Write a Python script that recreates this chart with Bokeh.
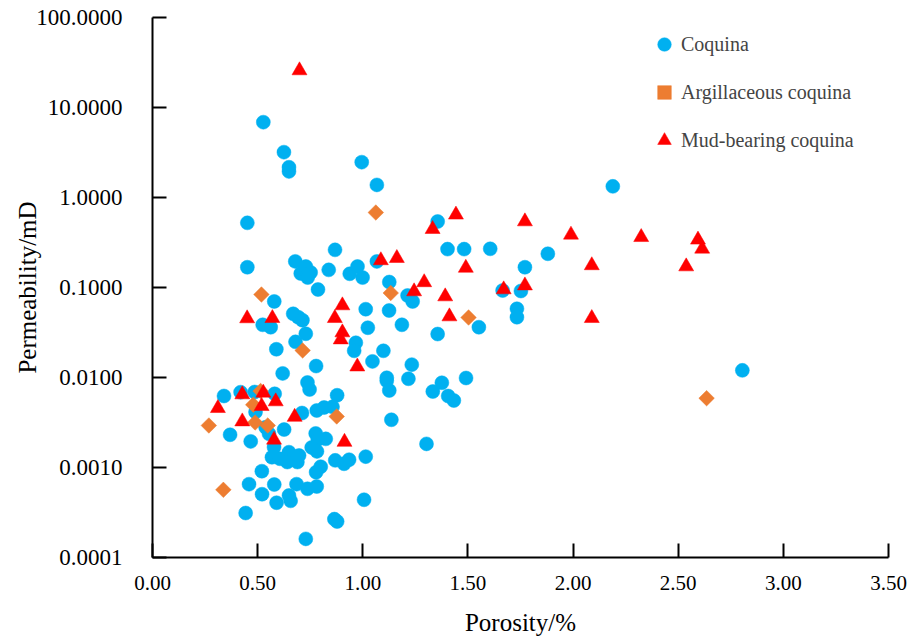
from bokeh.plotting import figure
from bokeh.models import FixedTicker, PrintfTickFormatter, Legend, LegendItem
from bokeh.embed import file_html
from bokeh.resources import INLINE

# Coquina
coq_x = [0.527, 0.625, 0.649, 0.649, 0.995, 1.067, 2.189, 0.451, 1.356, 0.451,
         0.679, 0.868, 0.705, 0.729, 0.752, 0.738, 0.838, 0.787, 0.938, 0.975,
         0.999, 1.067, 1.126, 1.403, 1.482, 1.606, 1.880, 1.771, 1.665, 1.752,
         1.733, 1.733, 1.213, 1.237, 0.579, 0.524, 0.562, 0.669, 0.693, 0.713,
         0.729, 0.680, 0.589, 0.778, 0.619, 0.737, 0.747, 1.014, 1.125, 1.024,
         1.186, 1.356, 1.552, 0.967, 0.959, 1.098, 1.046, 1.233, 1.114, 1.114,
         1.126, 1.217, 1.376, 1.333, 1.406, 1.433, 1.491, 1.136, 1.303, 0.878,
         0.781, 0.816, 0.856, 0.711, 0.340, 0.419, 0.486, 0.581, 0.490, 0.538,
         0.554, 0.626, 0.369, 0.467, 0.578, 0.776, 0.824, 0.786, 0.757, 0.782,
         0.568, 0.606, 0.649, 0.641, 0.689, 0.697, 0.869, 0.911, 0.935, 1.014,
         0.800, 0.778, 0.520, 0.459, 0.579, 0.685, 0.737, 0.781, 0.521, 0.649,
         0.657, 0.590, 0.443, 1.006, 0.865, 0.878, 0.729, 2.805]
coq_y = [6.87, 3.19, 2.17, 1.95, 2.47, 1.38, 1.33, 0.523, 0.541, 0.168,
         0.195, 0.262, 0.143, 0.171, 0.147, 0.129, 0.157, 0.095, 0.142, 0.171,
         0.129, 0.195, 0.115, 0.267, 0.267, 0.269, 0.237, 0.168, 0.0926, 0.0914,
         0.058, 0.0468, 0.0815, 0.070, 0.070, 0.0385, 0.0362, 0.051, 0.0468, 0.0433,
         0.0306, 0.0249, 0.0206, 0.0134, 0.0111, 0.0088, 0.00736, 0.0574, 0.0555, 0.0357,
         0.0385, 0.0304, 0.0362, 0.0243, 0.0198, 0.0198, 0.0151, 0.0139, 0.00993, 0.00919,
         0.00717, 0.00968, 0.00873, 0.00699, 0.00623, 0.00555, 0.00987, 0.00339, 0.00183, 0.00635,
         0.0043, 0.00464, 0.00472, 0.00403, 0.00623, 0.00687, 0.0069, 0.00659, 0.00414, 0.0028,
         0.00237, 0.00264, 0.00231, 0.00195, 0.00168, 0.00239, 0.00208, 0.00205, 0.00167, 0.00151,
         0.0013, 0.00125, 0.00148, 0.00115, 0.00115, 0.00136, 0.0012, 0.0011, 0.00122, 0.00132,
         0.00102, 0.000887, 0.00091, 0.000653, 0.000647, 0.000653, 0.00058, 0.000615, 0.000505, 0.000489,
         0.000426, 0.000406, 0.000312, 0.000438, 0.000267, 0.000251, 0.000161, 0.012]

# Argillaceous coquina
arg_x = [1.062, 0.518, 0.714, 1.133, 1.503, 0.514, 0.479, 0.268, 0.488, 0.548, 0.876, 0.337, 2.635]
arg_y = [0.681, 0.0836, 0.020, 0.0869, 0.0464, 0.00708, 0.00498, 0.00293, 0.00316, 0.00293, 0.00369, 0.000565, 0.00589]

# Mud-bearing coquina
mud_x = [0.699, 1.443, 1.332, 1.771, 1.990, 2.324, 2.594, 2.614, 2.538, 2.089,
         2.089, 1.086, 1.162, 1.490, 1.292, 1.244, 1.392, 1.670, 1.771, 1.412,
         0.903, 0.867, 0.903, 0.895, 0.974, 0.450, 0.570, 0.427, 0.527, 0.586,
         0.519, 0.311, 0.427, 0.676, 0.578, 0.913]
mud_y = [25.8, 0.643, 0.445, 0.541, 0.385, 0.362, 0.339, 0.269, 0.171, 0.176,
         0.0456, 0.200, 0.212, 0.165, 0.114, 0.0903, 0.0794, 0.095, 0.105, 0.0476,
         0.0631, 0.0456, 0.0316, 0.0264, 0.0132, 0.0453, 0.0456, 0.00647, 0.00676, 0.00541,
         0.0048, 0.00456, 0.00324, 0.00364, 0.00203, 0.00192]

x_ticks = [0.0, 0.5, 1.0, 1.5, 2.0, 2.5, 3.0, 3.5]
y_ticks = [0.0001, 0.001, 0.01, 0.1, 1, 10, 100]
labels = ["Coquina", "Argillaceous coquina", "Mud-bearing coquina"]

FONT = "Liberation Serif"
BLUE, ORANGE, RED = "#00B0F0", "#ED7D31", "#FF0000"

p = figure(width=916, height=639, x_range=(0, 3.5), y_range=(1e-4, 100),
           y_axis_type="log", output_backend="svg", toolbar_location=None,
           min_border_left=152, min_border_right=28, min_border_top=17,
           min_border_bottom=82)
p.outline_line_color = None
p.xgrid.visible = False
p.ygrid.visible = False
p.background_fill_color = "white"
p.border_fill_color = "white"

r1 = p.scatter(coq_x, coq_y, marker="circle", size=14, fill_color=BLUE,
               line_color=BLUE, line_width=0.5)
r2 = p.scatter(arg_x, arg_y, marker="square", angle=0.785398, size=11,
               fill_color=ORANGE, line_color=ORANGE, line_width=0.5)
r3 = p.scatter(mud_x, mud_y, marker="triangle", size=15, fill_color=RED,
               line_color=RED, line_width=0.5)

for ax in (p.xaxis[0], p.yaxis[0]):
    ax.axis_line_color = "black"
    ax.axis_line_width = 2
    ax.major_tick_line_color = "black"
    ax.major_tick_line_width = 2
    ax.major_tick_in = 14
    ax.major_tick_out = 0
    ax.minor_tick_line_color = None
    ax.major_label_text_font = FONT
    ax.major_label_text_color = "black"
    ax.axis_label_text_font = FONT
    ax.axis_label_text_font_size = "25px"
    ax.axis_label_text_font_style = "normal"
    ax.axis_label_text_color = "black"

p.xaxis[0].ticker = FixedTicker(ticks=x_ticks, minor_ticks=[])
p.xaxis[0].formatter = PrintfTickFormatter(format="%.2f")
p.xaxis[0].major_label_text_font_size = "21px"
p.xaxis[0].major_label_standoff = 18
p.xaxis[0].axis_label = "Porosity/%"
p.xaxis[0].axis_label_standoff = 16

p.yaxis[0].ticker = FixedTicker(ticks=y_ticks, minor_ticks=[])
p.yaxis[0].formatter = PrintfTickFormatter(format="%.4f")
p.yaxis[0].major_label_text_font_size = "23px"
p.yaxis[0].major_label_standoff = 30
p.yaxis[0].axis_label = "Permeability/mD"
p.yaxis[0].axis_label_standoff = -8

legend = Legend(items=[LegendItem(label=labels[0], renderers=[r1]),
                       LegendItem(label=labels[1], renderers=[r2]),
                       LegendItem(label=labels[2], renderers=[r3])],
                location=(495, 400), glyph_width=34, glyph_height=34,
                spacing=14, padding=0, margin=0, label_standoff=0,
                label_text_font=FONT, label_text_font_size="20px",
                border_line_color=None, background_fill_alpha=0)
p.add_layout(legend, "center")

open("out.html", "w").write(file_html(p, INLINE))
